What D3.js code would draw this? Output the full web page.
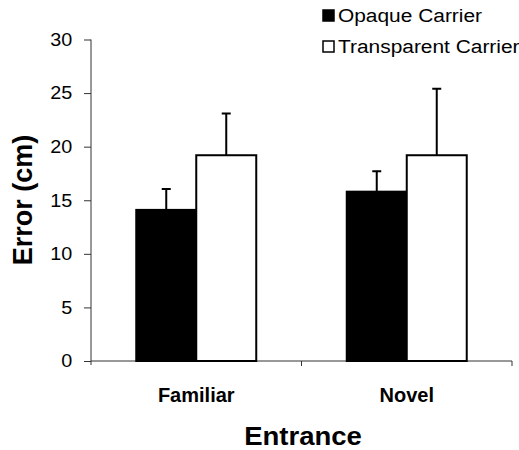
<!DOCTYPE html>
<html>
<head>
<meta charset="utf-8">
<script src="https://cdn.jsdelivr.net/npm/d3@7"></script>
<style>
  body { margin: 0; background: #fff; }
  text { font-family: "Liberation Sans", Arial, sans-serif; fill: #000; }
</style>
</head>
<body>
<div id="chart"></div>
<script>
// data
var categories = ["Familiar", "Novel"];
var series = ["Opaque Carrier", "Transparent Carrier"];
var opaqueMean = [14.1, 15.8];
var opaqueErr = [1.95, 1.9];
var transparentMean = [19.2, 19.2];
var transparentErr = [3.9, 6.2];
var yTicks = [0, 5, 10, 15, 20, 25, 30];

var width = 519, height = 450;
var margin = { top: 39.5, right: 7, bottom: 89, left: 91 };

var svg = d3.select("#chart").append("svg")
    .attr("width", width).attr("height", height);

var y = d3.scaleLinear().domain([0, 30]).range([height - margin.bottom, margin.top]);
var x = d3.scaleBand().domain(categories)
    .range([margin.left, width - margin.right])
    .paddingInner(0.43).paddingOuter(0.215);
var xs = d3.scaleBand().domain(series).range([0, x.bandwidth()]);

var rows = categories.map(function(c, i) {
    return [
        { cat: c, s: series[0], v: opaqueMean[i], e: opaqueErr[i], fill: "#000" },
        { cat: c, s: series[1], v: transparentMean[i], e: transparentErr[i], fill: "#fff" }
    ];
});

// y axis
var yAxis = svg.append("g")
    .attr("transform", "translate(" + margin.left + ",0)")
    .call(d3.axisLeft(y).tickValues(yTicks).tickSize(7).tickPadding(10));
yAxis.select(".domain").attr("stroke", "#333").attr("d", "M0," + y(30) + "V" + (y(0) + 4));
yAxis.selectAll(".tick line").attr("stroke", "#333");
yAxis.selectAll(".tick text").style("font-size", "18px")
    .attr("transform", "scale(1.1,1)");

// x axis with ticks on the category borders
var borders = [margin.left, x.step() + margin.left, width - margin.right];
svg.append("line")
    .attr("x1", margin.left).attr("x2", width - margin.right)
    .attr("y1", y(0)).attr("y2", y(0))
    .attr("stroke", "#333");
svg.selectAll(".xtick").data(borders.slice(1)).enter().append("line")
    .attr("x1", function(d) { return d; }).attr("x2", function(d) { return d; })
    .attr("y1", y(0)).attr("y2", y(0) + 5)
    .attr("stroke", "#333");

// bars
var groups = svg.selectAll(".grp").data(rows).enter().append("g")
    .attr("transform", function(d) { return "translate(" + x(d[0].cat) + ",0)"; });

// error bars (upper only)
groups.selectAll(".err").data(function(d) { return d; }).enter().append("path")
    .attr("d", function(d) {
        var cx = xs(d.s) + xs.bandwidth() / 2;
        return "M" + cx + "," + y(d.v) + "V" + y(d.v + d.e) +
            "M" + (cx - 4.5) + "," + y(d.v + d.e) + "H" + (cx + 4.5);
    })
    .attr("stroke", "#000").attr("stroke-width", 2).attr("fill", "none");

groups.selectAll("rect").data(function(d) { return d; }).enter().append("rect")
    .attr("x", function(d) { return xs(d.s); })
    .attr("width", xs.bandwidth())
    .attr("y", function(d) { return y(d.v); })
    .attr("height", function(d) { return y(0) - y(d.v); })
    .attr("fill", function(d) { return d.fill; })
    .attr("stroke", "#000").attr("stroke-width", 2);

// category labels
svg.selectAll(".cat").data(categories).enter().append("text")
    .attr("x", function(d) { return x(d) + x.bandwidth() / 2; })
    .attr("y", 401.5)
    .attr("text-anchor", "middle")
    .style("font-size", "20px").style("font-weight", "bold")
    .text(function(d) { return d; });

// axis titles
svg.append("text")
    .attr("transform", "translate(" + 303 + ",445) scale(1.1,1)")
    .attr("text-anchor", "middle")
    .style("font-size", "25px").style("font-weight", "bold")
    .text("Entrance");
svg.append("text")
    .attr("transform", "translate(32,200) rotate(-90)")
    .attr("text-anchor", "middle")
    .style("font-size", "27px").style("font-weight", "bold")
    .text("Error (cm)");

// legend
var legend = svg.selectAll(".leg").data(series).enter().append("g")
    .attr("transform", function(d, i) { return "translate(323," + (10 + i * 31) + ")"; });
legend.append("rect")
    .attr("width", 11).attr("height", 11)
    .attr("fill", function(d, i) { return i === 0 ? "#000" : "#fff"; })
    .attr("stroke", "#000").attr("stroke-width", 1.5);
legend.append("text")
    .attr("transform", "translate(15,11.5) scale(1.1,1)")
    .style("font-size", "19px")
    .text(function(d) { return d; });
</script>
</body>
</html>
